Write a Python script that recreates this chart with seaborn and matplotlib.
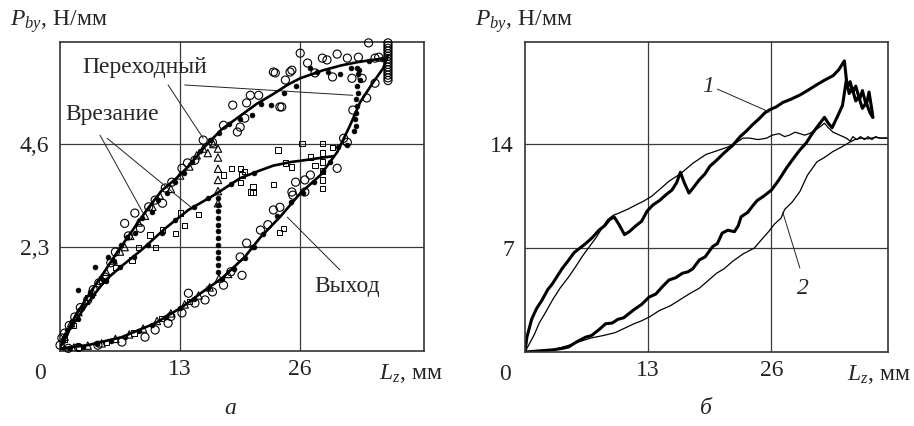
import numpy as np
import matplotlib
matplotlib.use("Agg")
import matplotlib.pyplot as plt
import seaborn as sns

# ---- panel a: fitted curves ----
curve_a_x = [0.2, 1.6, 3.0, 4.9, 6.3, 7.8, 9.5, 11.0, 12.5, 13.9, 15.7, 17.5, 19.3, 21.3, 23.1, 24.6, 26.0, 28.5, 30.5, 32.2, 33.8, 35.4]
curve_a_y = [0.16, 0.74, 1.2, 1.78, 2.22, 2.66, 3.16, 3.56, 3.82, 4.1, 4.55, 4.93, 5.2, 5.5, 5.72, 5.92, 6.07, 6.25, 6.36, 6.43, 6.48, 6.52]
curve_b_x = [0.2, 1.0, 3.0, 4.9, 6.7, 8.9, 11.4, 13.9, 16.5, 17.5, 19.5, 21.5, 23.1, 25.0, 26.8, 28.5, 29.6]
curve_b_y = [0.12, 0.45, 1.05, 1.56, 1.88, 2.25, 2.72, 3.13, 3.44, 3.57, 3.84, 4.0, 4.12, 4.2, 4.25, 4.3, 4.33]
curve_c_x = [0.2, 3.0, 6.7, 10.3, 13.2, 15.7, 17.5, 20.0, 21.7, 23.8, 26.0, 28.2, 30.0, 31.4, 32.5, 33.9, 35.0, 35.5]
curve_c_y = [0.04, 0.11, 0.29, 0.6, 0.96, 1.34, 1.6, 2.08, 2.52, 2.97, 3.5, 3.91, 4.42, 5.02, 5.54, 5.98, 6.3, 6.59]

# ---- panel a: measured points ----
circ_x = [0.0, 0.2, 0.5, 1.0, 1.6, 2.2, 3.0, 3.6, 4.2, 4.9, 5.5, 6.0, 7.0, 7.4, 8.1, 8.7, 9.6, 10.3, 11.1, 11.4,
          12.1, 13.2, 13.8, 14.6, 15.5, 16.5, 17.7, 18.7, 19.2, 19.5, 20.0, 20.2, 20.6, 21.5, 23.1, 23.3, 23.8, 24.0,
          24.4, 24.9, 25.1, 26.0, 26.8, 27.6, 28.4, 28.9, 29.5, 30.0, 31.1, 31.6, 32.3, 32.7, 33.4, 34.1, 34.5, 34.1,
          35.5, 35.5, 35.5, 35.5, 35.5, 35.5, 35.5, 35.5, 35.5, 35.5, 35.5, 35.5, 35.5, 35.5, 35.5,
          31.7, 33.2, 30.7, 31.1, 30.0, 25.5, 26.5, 27.1, 25.1, 26.5, 25.2, 23.8, 23.1, 21.7, 20.2, 19.5, 19.7,
          17.7, 15.7, 14.6, 13.9, 13.2, 11.7, 10.3, 9.2, 6.7, 4.1, 0.9, 2.0, 12.0, 16.5, 18.5, 22.5]
circ_y = [0.11, 0.27, 0.38, 0.55, 0.74, 0.95, 1.12, 1.35, 1.5, 1.63, 1.95, 2.19, 2.83, 2.55, 3.06, 2.72, 3.2, 3.35, 3.28, 3.62,
          3.75, 4.06, 4.18, 4.24, 4.69, 4.64, 5.02, 5.47, 4.87, 4.98, 5.18, 5.52, 5.69, 5.69, 6.21, 6.19, 5.43, 5.43,
          6.03, 6.21, 6.25, 6.63, 6.41, 6.19, 6.52, 6.48, 6.1, 6.61, 6.52, 6.07, 6.54, 6.07, 6.86, 6.52, 6.54, 5.96,
          6.86, 6.8, 6.74, 6.68, 6.62, 6.56, 6.5, 6.44, 6.38, 6.32, 6.26, 6.2, 6.14, 6.08, 6.02,
          5.36, 5.63, 4.73, 4.64, 4.06, 3.75, 3.8, 3.91, 3.53, 3.53, 3.46, 3.19, 3.13, 2.68, 2.39, 2.08, 1.67,
          1.45, 1.12, 1.05, 1.27, 0.83, 0.6, 0.45, 0.29, 0.18, 0.11, 0.04, 0.06, 0.75, 1.3, 1.75, 2.8]

dot_x = [0.3, 0.8, 1.3, 2.0, 2.4, 3.3, 3.8, 4.4, 5.2, 5.8, 6.6, 7.3, 8.1, 8.9, 10.0, 10.6, 11.6, 12.4, 13.4, 14.3,
         15.1, 16.2, 17.2, 18.3, 19.5, 20.8, 21.8, 22.8, 24.2, 25.5, 27.1, 27.8, 29.0, 30.3, 31.5, 32.2, 33.5, 34.8,
         17.1, 17.1, 17.1, 17.1, 17.1, 17.1, 17.1, 17.1, 17.1, 17.1, 17.1, 17.1,
         32.3, 32.2, 32.0, 32.1, 32.0, 31.9, 32.0, 31.8, 30.1, 31.1, 32.3, 32.5, 32.4, 29.2, 28.5, 27.5, 26.3, 25.0,
         23.5, 22.0, 20.8,
         2.0, 3.5, 5.0, 6.5, 8.0, 9.5, 11.0, 12.5, 14.5, 16.0, 18.5, 21.0,
         1.0, 2.5, 4.0, 5.5, 7.0, 8.5, 10.0, 11.5, 13.0, 14.5, 16.0, 17.5, 18.8, 20.0, 21.0]
dot_y = [0.2, 0.45, 0.62, 1.34, 0.95, 1.3, 1.85, 1.6, 2.08, 2.0, 2.35, 2.52, 2.61, 2.95, 3.08, 3.35, 3.5, 3.75, 3.95, 4.2,
         4.45, 4.7, 4.85, 5.05, 5.15, 5.25, 5.5, 5.47, 5.74, 5.9, 6.3, 6.21, 6.2, 6.16, 6.3, 6.3, 6.45, 6.5,
         1.75, 1.9, 2.05, 2.2, 2.35, 2.5, 2.65, 2.8, 2.95, 3.1, 3.25, 3.4,
         5.74, 5.9, 5.6, 5.45, 5.3, 5.15, 5.0, 4.9, 4.53, 4.58, 6.16, 6.03, 6.25, 4.2, 4.0, 3.75, 3.5, 3.3,
         3.0, 2.6, 2.3,
         0.7, 1.2, 1.55, 1.85, 2.08, 2.35, 2.62, 2.9, 3.2, 3.4, 3.7, 3.95,
         0.05, 0.08, 0.13, 0.2, 0.3, 0.42, 0.56, 0.74, 0.93, 1.15, 1.38, 1.58, 1.82, 2.05, 2.3]

tri_x = [0.5, 1.2, 2.0, 2.8, 3.5, 4.3, 5.0, 5.8, 6.5, 7.0, 7.6, 8.5, 9.2, 10.0, 10.8, 12.0, 13.0, 14.0, 14.8, 15.5,
         16.0, 16.6, 17.1, 17.1, 17.1, 17.1, 17.1, 17.1,
         1.5, 3.0, 4.5, 6.0, 7.5, 9.0, 10.5, 12.0, 13.5, 15.0, 16.2, 17.2, 18.2, 0.0, 0.3]
tri_y = [0.3, 0.6, 0.85, 1.1, 1.3, 1.55, 1.75, 2.0, 2.2, 2.3, 2.55, 2.85, 3.0, 3.2, 3.45, 3.6, 3.9, 4.1, 4.35, 4.5,
         4.4, 4.6, 3.28, 3.55, 3.8, 4.05, 4.3, 4.5,
         0.06, 0.1, 0.15, 0.25, 0.35, 0.48, 0.65, 0.82, 1.02, 1.22, 1.4, 1.6, 1.7, 0.05, 0.1]

sq_x = [0.5, 1.5, 3.0, 4.5, 6.0, 7.8, 8.5, 9.75, 10.3, 11.1, 12.5, 13.0, 13.5, 15.0, 17.7, 18.6, 19.5, 19.7, 19.5,
        20.0, 20.6, 20.9, 20.9, 23.1, 23.6, 24.4, 25.1, 26.2, 27.1, 27.6, 28.4, 28.4, 28.4, 28.4, 28.4, 28.4, 29.5,
        24.2, 23.8, 2.0, 5.0, 8.0, 11.0, 14.0]
sq_y = [0.25, 0.55, 1.18, 1.56, 1.85, 2.01, 2.3, 2.57, 2.3, 2.68, 2.61, 3.06, 2.79, 3.02, 3.91, 4.06, 4.06, 3.91, 3.75,
        3.98, 3.53, 3.64, 3.53, 3.69, 4.47, 4.18, 4.09, 4.62, 4.31, 4.13, 4.62, 4.4, 4.2, 4.0, 3.8, 3.6, 4.53,
        2.72, 2.63, 0.07, 0.17, 0.38, 0.7, 1.08]

# ---- panel b: recorded force curves ----
thick1_x = [0, 0.2, 0.7, 1.2, 1.8, 2.4, 2.9, 3.4, 3.9, 4.5, 5.2, 5.8, 6.4, 7.1, 7.8, 8.4, 8.9, 9.4, 9.9, 10.5,
            11.0, 11.7, 12.3, 12.9, 13.5, 14.2, 14.9, 15.5, 16.0, 16.4, 16.8, 17.3, 17.8, 18.4, 19.0, 19.5, 20.2,
            21.0, 21.9, 22.7, 23.4, 24.0, 24.7, 25.3, 25.8, 26.5, 27.2, 28.0, 29.0, 29.8, 30.8, 31.6, 32.5, 33.1,
            33.7, 34.0, 34.3, 34.6, 34.9, 35.3, 35.6, 36.0, 36.3, 36.6, 36.7]
thick1_y = [0, 1.0, 2.2, 2.9, 3.5, 4.2, 4.6, 5.1, 5.6, 6.1, 6.7, 7.0, 7.3, 7.7, 8.2, 8.5, 8.9, 9.1, 8.6, 7.9,
            8.1, 8.5, 8.8, 9.5, 9.9, 10.2, 10.6, 10.9, 11.4, 12.1, 11.4, 10.7, 11.1, 11.6, 12.0, 12.5, 12.9,
            13.4, 13.9, 14.5, 14.9, 15.3, 15.7, 16.1, 16.3, 16.5, 16.8, 17.0, 17.3, 17.6, 18.0, 18.3, 18.6, 19.0,
            19.6, 17.8, 18.2, 17.5, 17.9, 17.0, 17.6, 16.6, 17.5, 16.3, 15.8]
thick2_x = [0, 1, 2, 3, 4, 4.6, 5.5, 6.4, 7.0, 7.8, 8.5, 9.2, 9.8, 10.4, 11.0, 11.6, 12.3, 13.1, 13.8, 14.5,
            15.2, 15.9, 16.6, 17.2, 17.7, 18.4, 19.0, 19.8, 20.3, 20.8, 21.4, 22.1, 22.5, 22.8, 23.5, 24.1, 24.5,
            25.2, 26.0, 26.8, 27.6, 28.4, 29.0, 29.7, 30.3, 31.0, 31.6, 32.0, 32.4, 33.0, 33.5, 33.9, 34.2, 34.5,
            34.9, 35.2, 35.6, 36.0, 36.4, 36.7]
thick2_y = [0, 0.05, 0.1, 0.15, 0.25, 0.34, 0.7, 1.0, 1.1, 1.5, 1.9, 1.95, 2.2, 2.3, 2.6, 2.9, 3.2, 3.7, 3.9, 4.4,
            4.85, 5.0, 5.3, 5.4, 5.6, 6.2, 6.4, 7.1, 7.3, 8.0, 8.2, 8.1, 8.5, 9.1, 9.4, 9.9, 10.2,
            10.5, 10.9, 11.6, 12.4, 13.1, 13.6, 14.1, 14.7, 15.3, 15.8, 15.4, 15.1, 15.9, 16.6, 18.3, 17.4, 17.8,
            16.9, 17.2, 16.4, 16.8, 16.1, 15.8]
thin1_x = [0, 0.5, 1.0, 1.5, 2.2, 2.9, 3.7, 4.6, 5.3, 6.0, 6.8, 7.5, 8.1, 8.7, 9.3, 9.9, 10.8, 11.7, 12.5, 13.4,
           14.3, 15.2, 16.4, 17.7, 18.4, 19.1, 20.5, 21.4, 22.3, 23.0, 23.7, 24.6, 25.5, 26.1, 26.8, 27.4, 27.9,
           28.5, 29.0, 29.5, 30.0, 30.5, 31.0, 31.6, 32.0, 32.5, 33.2, 33.9, 34.3, 34.6, 35.0, 35.4, 35.8, 36.2,
           36.6, 37.0, 37.4, 37.8, 38.3]
thin1_y = [0, 0.6, 1.2, 1.95, 2.7, 3.5, 4.3, 5.05, 5.7, 6.4, 7.1, 7.7, 8.3, 8.9, 9.2, 9.35, 9.6, 9.9, 10.15, 10.5,
           11.0, 11.5, 12.0, 12.7, 13.0, 13.3, 13.6, 13.8, 14.1, 14.4, 14.4, 14.3, 14.4, 14.6, 14.7, 14.5, 14.6,
           14.8, 14.7, 14.6, 14.7, 14.9, 15.1, 15.4, 15.1, 14.8, 14.6, 14.4, 14.2, 14.5, 14.3, 14.5, 14.3, 14.5,
           14.3, 14.5, 14.4, 14.4, 14.4]
thin2_x = [0, 1.5, 3.0, 4.6, 6.0, 7.0, 8.2, 9.5, 10.5, 11.5, 12.3, 13.1, 14.2, 15.3, 16.3, 17.3, 18.4, 19.4, 20.2,
           21.0, 21.9, 23.0, 24.2, 25.0, 25.7, 26.3, 27.0, 27.4, 28.2, 29.0, 29.8, 30.8, 31.6, 32.5, 33.4, 34.2,
           34.8, 35.5, 36.2, 36.9, 37.6, 38.3]
thin2_y = [0, 0.05, 0.15, 0.45, 0.75, 0.95, 1.1, 1.3, 1.6, 1.9, 2.1, 2.35, 2.8, 3.1, 3.5, 3.9, 4.3, 4.85, 5.3,
           5.6, 6.1, 6.6, 7.0, 7.6, 8.1, 8.6, 9.0, 9.6, 10.1, 10.8, 11.9, 12.8, 13.1, 13.5, 13.8, 14.1,
           14.3, 14.4, 14.35, 14.45, 14.4, 14.4]

xticks = [13, 26]
yticks_a = [2.3, 4.6]
yticks_b = [7, 14]
ytick_labels_a = ["2,3", "4,6"]
ytick_labels_b = ["7", "14"]

sns.set_theme(style="white")
plt.rcParams["font.family"] = ["Liberation Serif", "DejaVu Serif"]
plt.rcParams["mathtext.fontset"] = "custom"
plt.rcParams["mathtext.rm"] = "Liberation Serif"
plt.rcParams["mathtext.it"] = "Liberation Serif:italic"
FS = 17

fig = plt.figure(figsize=(9.14, 4.26), dpi=100)
ax1 = fig.add_axes([60 / 914, 1 - 351 / 426, 364 / 914, 309 / 426])
ax2 = fig.add_axes([525 / 914, 1 - 352 / 426, 363 / 914, 310 / 426])


def style_axes(ax, xlim, ylim, yticks, ylabels, xlab_right):
    ax.set_xlim(*xlim)
    ax.set_ylim(*ylim)
    ax.set_xticks(xticks)
    ax.set_xticklabels([str(t) for t in xticks], fontsize=FS)
    ax.set_yticks(yticks)
    ax.set_yticklabels(ylabels, fontsize=FS)
    ax.tick_params(axis="x", length=0, pad=6, colors="#222222")
    ax.tick_params(axis="y", length=0, pad=8, colors="#222222")
    ax.grid(True, color="#3a3a3a", linewidth=0.9)
    ax.set_axisbelow(True)
    for sp in ax.spines.values():
        sp.set_color("#333333")
        sp.set_linewidth(1.2)
    ax.set_xlabel("")
    ax.set_ylabel("")
    ax.text(-0.137, 1.065, r"$P_{by}$, Н/мм", transform=ax.transAxes, fontsize=FS, ha="left", va="center")
    ax.text(xlab_right, -0.072, r"$L_z$, мм", transform=ax.transAxes, fontsize=FS, ha="right", va="center")
    ax.text(-0.055, -0.072, "0", transform=ax.transAxes, fontsize=FS, ha="center", va="center")


# panel a
sns.scatterplot(x=sq_x, y=sq_y, ax=ax1, marker="s", s=14, facecolors="none", edgecolors="black", linewidth=0.7, zorder=3)
sns.scatterplot(x=tri_x, y=tri_y, ax=ax1, marker="^", s=28, facecolors="none", edgecolors="black", linewidth=0.8, zorder=3)
sns.scatterplot(x=circ_x, y=circ_y, ax=ax1, marker="o", s=34, facecolors="none", edgecolors="black", linewidth=0.8,
                zorder=3, clip_on=False)
sns.scatterplot(x=dot_x, y=dot_y, ax=ax1, marker="o", s=12, color="black", edgecolor="black", linewidth=0.5, zorder=4)
for cx, cy in [(curve_a_x, curve_a_y), (curve_b_x, curve_b_y), (curve_c_x, curve_c_y)]:
    sns.lineplot(x=cx, y=cy, ax=ax1, sort=False, estimator=None, color="black", linewidth=1.9, zorder=5)
style_axes(ax1, (0, 39.4), (-0.02, 6.88), yticks_a, ytick_labels_a, 1.052)

ann = dict(arrowstyle="-", color="#222222", lw=0.7, shrinkA=0, shrinkB=0)
ax1.text(9.2, 6.3, "Переходный", fontsize=FS, ha="center", va="center")
ax1.annotate("", xy=(15.5, 4.73), xytext=(11.7, 5.92), arrowprops=ann)
ax1.annotate("", xy=(31.7, 5.69), xytext=(13.5, 5.92), arrowprops=ann)
ax1.text(5.6, 5.25, "Врезание", fontsize=FS, ha="center", va="center")
ax1.annotate("", xy=(9.0, 3.06), xytext=(4.33, 4.8), arrowprops=ann)
ax1.annotate("", xy=(14.3, 3.17), xytext=(5.1, 4.73), arrowprops=ann)
ax1.text(31.1, 1.41, "Выход", fontsize=FS, ha="center", va="center")
ax1.annotate("", xy=(24.6, 2.97), xytext=(30.3, 1.79), arrowprops=ann)

# panel b
sns.lineplot(x=thin1_x, y=thin1_y, ax=ax2, sort=False, estimator=None, color="black", linewidth=0.9)
sns.lineplot(x=thin2_x, y=thin2_y, ax=ax2, sort=False, estimator=None, color="black", linewidth=0.9)
sns.lineplot(x=thick1_x, y=thick1_y, ax=ax2, sort=False, estimator=None, color="black", linewidth=2.2)
sns.lineplot(x=thick2_x, y=thick2_y, ax=ax2, sort=False, estimator=None, color="black", linewidth=2.2)
style_axes(ax2, (0, 38.3), (0, 20.87), yticks_b, ytick_labels_b, 1.063)
ax2.text(19.3, 17.9, "1", fontsize=FS, style="italic", ha="center", va="center")
ax2.annotate("", xy=(25.8, 16.15), xytext=(20.3, 17.7), arrowprops=ann)
ax2.text(29.3, 4.3, "2", fontsize=FS, style="italic", ha="center", va="center")
ax2.annotate("", xy=(27.2, 9.4), xytext=(29.0, 5.65), arrowprops=ann)

fig.text(230 / 914, 1 - 408 / 426, "а", fontsize=FS, style="italic", ha="center", va="center")
fig.text(706 / 914, 1 - 408 / 426, "б", fontsize=FS, style="italic", ha="center", va="center")

fig.savefig("out.png", dpi=100, facecolor="white")
